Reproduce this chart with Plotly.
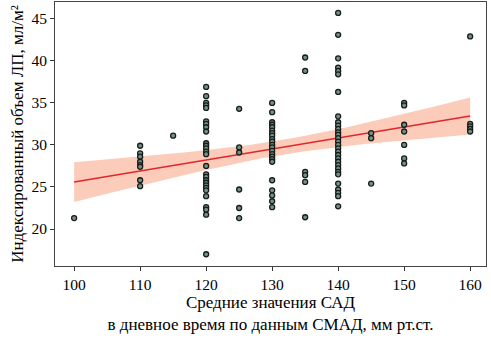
import numpy as np
import plotly.graph_objects as go

# Data (x = mean daytime SBP, y = indexed LA volume)
sad_100 = [21.3]
sad_110 = [29.9, 29.0, 28.6, 28.0, 27.6, 27.4, 25.8, 25.1]
sad_115 = [31.1]
sad_120 = [36.9, 35.8, 35.0, 34.7, 34.4, 32.8, 32.5, 32.1, 31.6, 30.2, 29.9, 29.6,
           29.2, 28.9, 27.5, 26.5, 26.2, 25.8, 25.5, 25.2, 24.9, 24.6, 23.9, 22.6,
           22.3, 21.7, 17.0]
sad_125 = [34.3, 29.7, 29.1, 24.7, 22.5, 21.3]
sad_130 = [35.0, 33.9, 32.7, 32.4, 32.1, 31.7, 31.4, 31.1, 30.7, 30.4, 30.0, 29.7,
           29.3, 28.9, 28.6, 28.3, 28.0, 25.8, 24.6, 24.0, 23.3, 22.6]
sad_135 = [40.4, 38.8, 26.8, 26.4, 25.6, 21.4]
sad_140 = [45.7, 43.1, 40.3, 39.2, 38.8, 38.4, 36.3, 33.4, 32.7, 32.3, 31.9, 31.5,
           31.2, 30.8, 30.4, 30.0, 29.6, 29.2, 28.8, 28.4, 28.0, 27.6, 27.2, 26.8,
           26.5, 25.4, 24.7, 24.3, 23.9, 22.7]
sad_145 = [31.4, 30.8, 25.4]
sad_150 = [35.0, 34.7, 32.4, 31.6, 30.0, 28.4, 27.8]
sad_160 = [42.9, 32.5, 32.2, 31.9, 31.6]

groups = {100: sad_100, 110: sad_110, 115: sad_115, 120: sad_120, 125: sad_125,
          130: sad_130, 135: sad_135, 140: sad_140, 145: sad_145, 150: sad_150,
          160: sad_160}

xs = np.array([k for k, v in groups.items() for _ in v], dtype=float)
ys = np.array([y for v in groups.values() for y in v], dtype=float)

# Linear regression with 95% confidence band
n = len(xs)
b, a = np.polyfit(xs, ys, 1)
xf = np.linspace(100, 160, 61)
yf = a + b * xf
resid = ys - (a + b * xs)
s = np.sqrt(np.sum(resid ** 2) / (n - 2))
sxx = np.sum((xs - xs.mean()) ** 2)
se = s * np.sqrt(1.0 / n + (xf - xs.mean()) ** 2 / sxx)
tcrit = 1.98
lo = yf - tcrit * se
hi = yf + tcrit * se

font = "Liberation Serif, Times New Roman, serif"

fig = go.Figure()
fig.add_trace(go.Scatter(
    x=np.concatenate([xf, xf[::-1]]), y=np.concatenate([hi, lo[::-1]]),
    fill="toself", fillcolor="rgba(250,170,140,0.6)", line=dict(width=0),
    mode="lines", hoverinfo="skip", showlegend=False))
fig.add_trace(go.Scatter(
    x=xf, y=yf, mode="lines", line=dict(color="#e3262a", width=1.6),
    showlegend=False))
fig.add_trace(go.Scatter(
    x=xs, y=ys, mode="markers",
    marker=dict(size=5, color="#6e9484", line=dict(color="#1a1a1a", width=1.3)),
    showlegend=False))

fig.update_layout(
    width=491, height=338,
    margin=dict(l=55, r=5, t=2, b=72),
    paper_bgcolor="white", plot_bgcolor="white",
    font=dict(family=font, size=15, color="black"),
    xaxis=dict(
        range=[97.1, 162.4], tickvals=[100, 110, 120, 130, 140, 150, 160],
        ticks="outside", ticklen=4, tickcolor="#333", showgrid=False, zeroline=False,
        showline=True, linecolor="#444", linewidth=1, mirror=True,
        tickfont=dict(family=font, size=15.5),
        title=dict(text="Средние значения САД<br>в дневное время по данным СМАД, мм рт.ст.",
                   font=dict(family=font, size=17), standoff=4)),
    yaxis=dict(
        range=[15.6, 47.0], tickvals=[20, 25, 30, 35, 40, 45],
        ticks="outside", ticklen=4, tickcolor="#333", showgrid=False, zeroline=False,
        showline=True, linecolor="#444", linewidth=1, mirror=True,
        tickfont=dict(family=font, size=15.5),
        title=dict(text="Индексированный объем ЛП, мл/м²",
                   font=dict(family=font, size=17), standoff=3)),
)

fig.write_html("out.html")
